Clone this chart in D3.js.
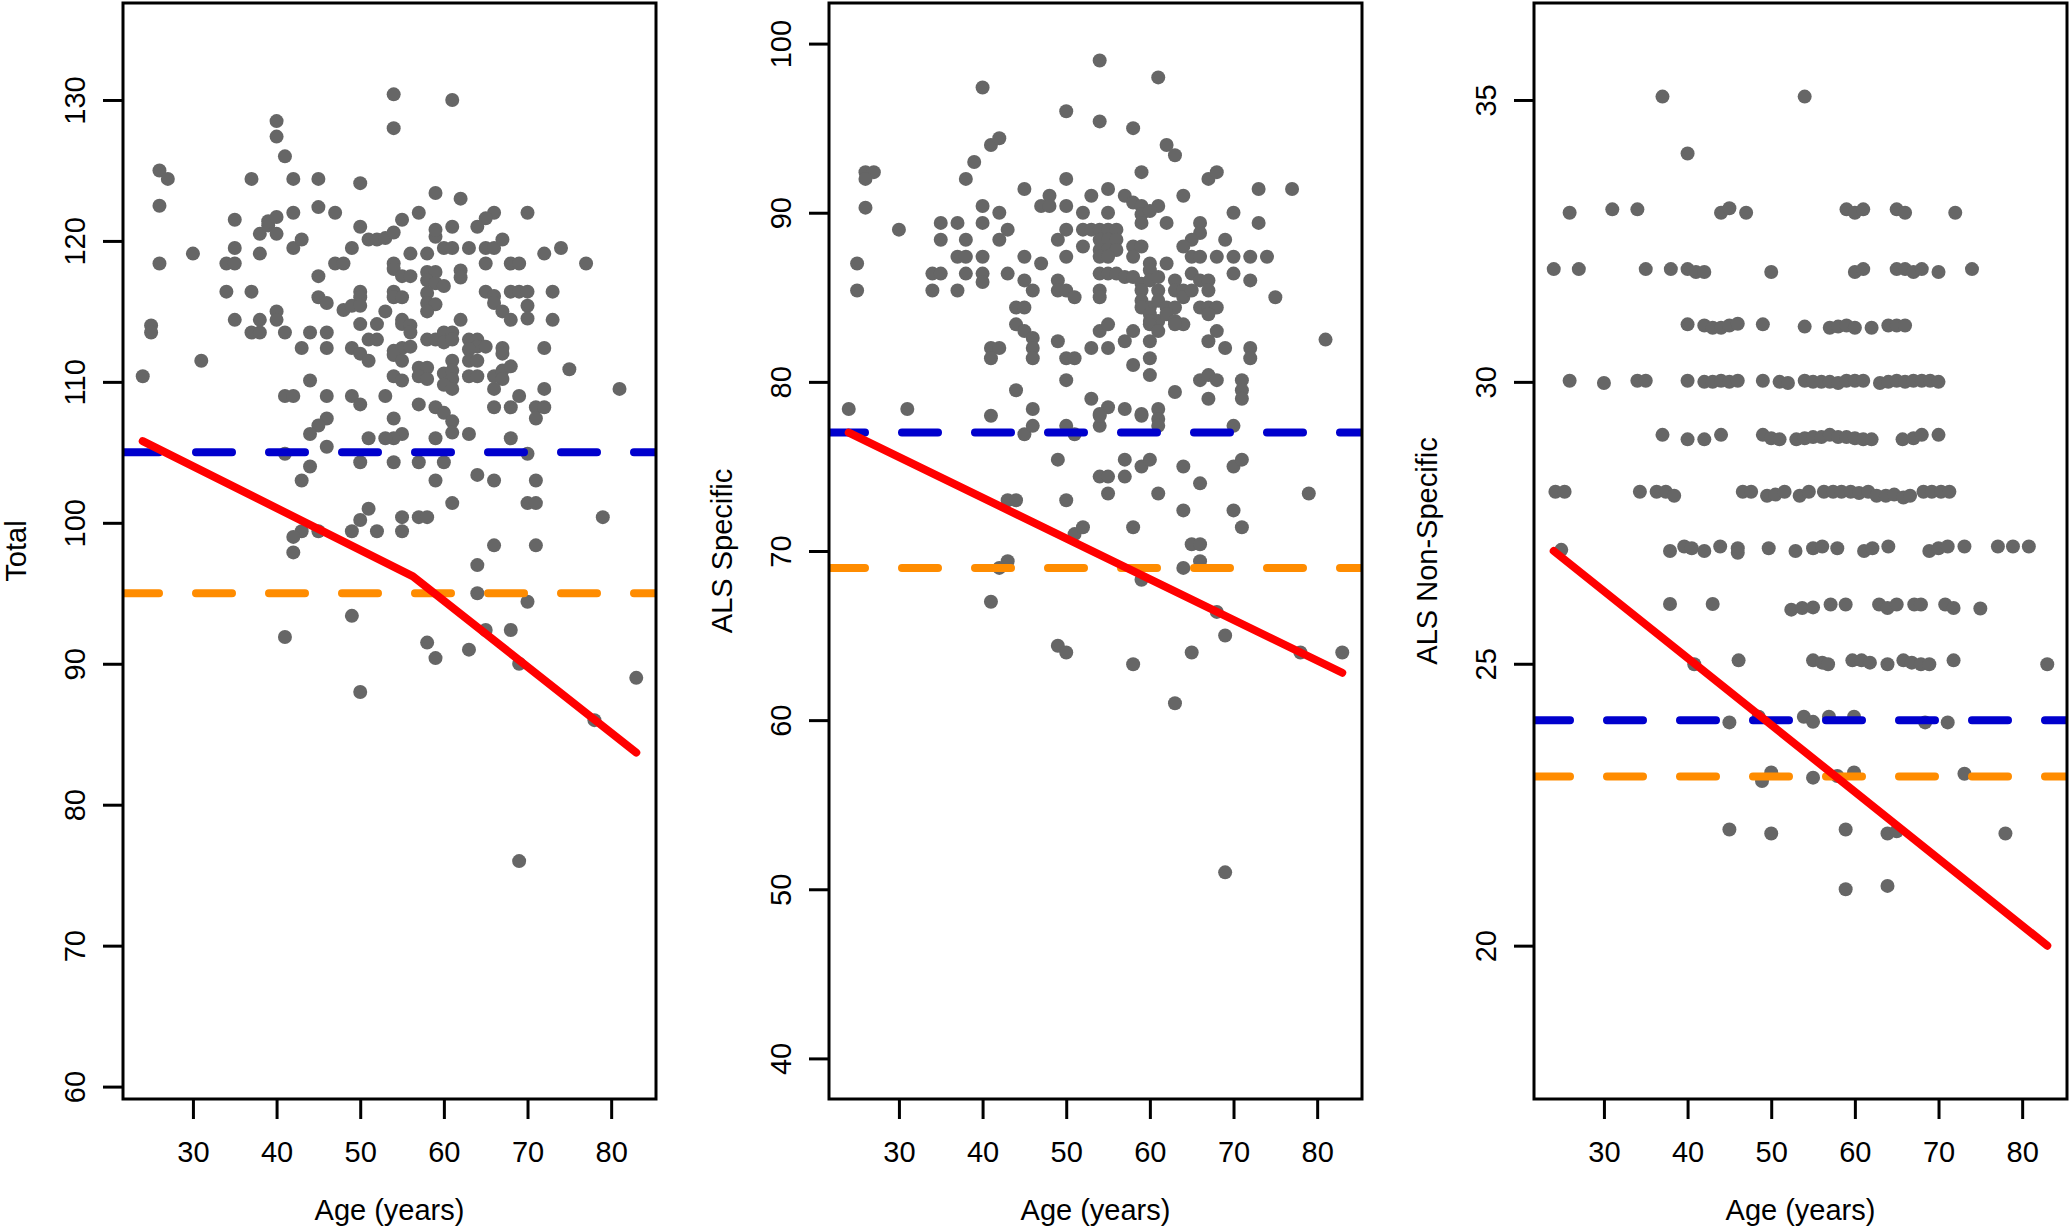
<!DOCTYPE html>
<html>
<head>
<meta charset="utf-8">
<script src="https://cdn.jsdelivr.net/npm/d3@7"></script>
<style>
body { margin: 0; background: #fff; }
svg text { font-family: "Liberation Sans", Arial, Helvetica, sans-serif; font-size: 29px; fill: #000; }
</style>
</head>
<body>
<svg id="chart" width="2070" height="1231"></svg>
<script>
// x axis (shared)
var ageLim = [24, 83];
var ageTicks = [30, 40, 50, 60, 70, 80];

// panel 1: Total  [age, score]
var totalPts = [
  [54,130.4],[61,130.0],[40,128.5],[40,127.4],[41,126.0],[54,128.0],[26,125.0],[27,124.4],[37,124.4],[42,124.4],
  [45,124.4],[50,124.1],[26,122.5],[59,123.4],[62,123.0],[35,121.5],[38,120.5],[39,121.1],[39,121.4],[40,121.7],
  [40,120.5],[42,122.0],[45,122.4],[47,122.0],[50,121.0],[55,121.5],[57,122.0],[66,122.0],[65,121.6],[64,121.0],
  [70,122.0],[30,119.1],[34,118.4],[35,118.4],[35,119.5],[38,119.1],[42,119.5],[43,120.1],[47,118.4],[48,118.4],
  [49,119.5],[51,120.1],[52,120.1],[53,120.2],[54,120.6],[56,119.1],[58,119.1],[59,120.3],[59,120.8],[61,121.0],
  [60,119.5],[61,119.5],[63,119.5],[65,119.5],[66,119.5],[67,120.1],[65,118.4],[68,118.4],[69,118.4],[72,119.1],
  [74,119.5],[77,118.4],[26,118.4],[54,118.4],[54,118.0],[55,117.5],[56,117.5],[58,117.8],[59,117.8],[58,117.2],
  [59,117.0],[60,116.8],[62,117.9],[62,117.4],[45,117.5],[34,116.4],[37,116.4],[50,116.4],[50,116.0],[54,116.4],
  [54,116.0],[55,116.0],[58,116.3],[58,115.6],[59,115.5],[58,115.0],[65,116.4],[66,116.1],[68,116.4],[69,116.4],
  [70,116.4],[73,116.4],[45,116.0],[46,115.6],[48,115.1],[49,115.4],[50,115.4],[66,115.6],[67,115.0],[68,114.4],
  [70,115.4],[70,114.5],[40,115.0],[40,114.4],[53,115.0],[35,114.4],[38,114.4],[62,114.4],[73,114.4],[55,114.4],
  [55,114.1],[56,114.0],[56,113.5],[37,113.5],[38,113.5],[41,113.5],[44,113.5],[46,113.5],[50,114.1],[52,114.1],
  [51,113.0],[52,113.0],[58,113.0],[59,113.0],[60,113.5],[61,113.5],[60,112.8],[61,113.0],[63,113.0],[64,113.0],
  [64,112.5],[65,112.5],[63,112.3],[43,112.4],[46,112.4],[49,112.4],[50,112.0],[51,111.5],[54,112.2],[55,112.4],
  [56,112.5],[54,111.9],[55,111.5],[61,111.5],[63,111.5],[64,111.5],[67,112.4],[67,112.0],[72,112.4],[31,111.5],
  [57,111.0],[58,111.0],[57,110.4],[58,110.2],[60,110.6],[61,110.8],[61,110.2],[60,109.8],[61,109.5],[63,110.4],
  [64,110.4],[66,110.4],[67,110.8],[68,111.1],[67,110.2],[24,110.4],[44,110.1],[53,109.0],[54,110.4],[55,110.1],
  [75,110.9],[66,109.5],[69,109.0],[72,109.5],[81,109.5],[41,109.0],[42,109.0],[46,109.0],[49,109.0],[50,108.4],
  [25,114.0],[25,113.5],[57,108.4],[59,108.2],[60,107.8],[66,108.2],[68,108.2],[71,108.2],[72,108.2],
  [61,107.2],[61,106.4],[71,107.4],[46,107.4],[45,106.9],[44,106.3],[54,107.4],[55,106.3],[54,106.0],[53,106.0],
  [51,106.0],[63,106.3],[59,106.0],[68,106.0],[46,105.4],[41,104.9],[70,104.9],[50,104.3],[54,104.3],[57,104.3],
  [60,104.3],[44,104.0],[43,103.0],[59,103.0],[64,103.4],[66,103.0],[71,103.0],[61,101.4],[70,101.4],[71,101.4],
  [51,101.0],[55,100.4],[57,100.4],[58,100.4],[79,100.4],[50,100.2],[49,99.4],[52,99.4],[55,99.4],[43,99.4],
  [42,99.0],[45,99.4],[42,97.9],[66,98.4],[71,98.4],[64,97.0],[64,95.0],[70,94.4],[49,93.4],[41,91.9],
  [65,92.4],[68,92.4],[58,91.5],[59,90.4],[63,91.0],[69,90.0],[83,89.0],[50,88.0],[78,86.0],[69,76.0]
];
var totalFit = [[24,105.8],[56.3,96.2],[83,83.7]];
var totalRefs = [105, 95];
var totalTicks = [60, 70, 80, 90, 100, 110, 120, 130];
var totalLim = [62, 134];

// panel 2: ALS Specific
var specificPts = [
  [54,99.0],[61,98.0],[40,97.4],[50,96.0],[54,95.4],[58,95.0],[62,94.0],[63,93.4],[41,94.0],[42,94.4],
  [39,93.0],[38,92.0],[26,92.4],[27,92.4],[26,92.0],[59,92.4],[67,92.0],[68,92.4],[50,92.0],[26,90.3],
  [45,91.4],[48,91.0],[47,90.4],[48,90.4],[50,90.4],[53,91.0],[55,91.4],[57,91.0],[58,90.6],[59,90.4],
  [61,90.4],[59,89.9],[60,90.1],[64,91.0],[73,91.4],[77,91.4],[52,90.0],[55,90.0],[70,90.0],[30,89.0],
  [35,89.4],[37,89.4],[40,90.4],[40,89.4],[42,90.0],[43,89.0],[50,89.0],[52,89.0],[53,89.0],[54,89.0],
  [55,89.0],[56,89.0],[59,89.4],[62,89.4],[66,89.4],[66,88.8],[65,88.4],[73,89.4],[35,88.4],[38,88.4],
  [42,88.4],[49,88.4],[54,88.4],[55,88.4],[56,88.4],[54,87.8],[55,87.8],[56,87.8],[54,87.4],[55,87.4],
  [58,88.0],[59,88.0],[58,87.4],[64,88.0],[69,88.4],[52,88.0],[25,87.0],[37,87.4],[38,87.4],[40,87.4],
  [45,87.4],[47,87.0],[50,87.4],[60,87.0],[62,87.0],[65,87.4],[66,87.4],[68,87.4],[70,87.4],[72,87.4],
  [74,87.4],[34,86.4],[35,86.4],[38,86.4],[40,86.4],[40,85.9],[43,86.4],[54,86.4],[55,86.4],[56,86.4],
  [57,86.2],[58,86.2],[59,85.8],[60,86.6],[60,86.0],[61,86.2],[65,86.4],[66,86.0],[67,86.0],[70,86.4],
  [72,86.0],[25,85.4],[34,85.4],[37,85.4],[45,86.0],[46,85.4],[49,86.0],[49,85.4],[50,85.4],[51,85.0],
  [54,85.4],[54,85.0],[59,85.4],[59,84.8],[60,84.4],[61,85.4],[61,84.8],[63,86.0],[63,85.4],[64,85.4],
  [64,85.0],[65,85.4],[67,85.4],[75,85.0],[44,84.4],[45,84.4],[59,84.4],[60,84.0],[61,83.6],[62,84.4],
  [63,84.4],[62,84.0],[63,83.6],[64,83.4],[60,83.6],[66,84.4],[67,84.4],[68,84.4],[67,84.0],[44,83.4],
  [45,83.0],[46,82.6],[46,82.0],[46,81.4],[54,83.0],[55,83.4],[58,83.0],[57,82.4],[60,83.4],[61,83.0],
  [60,82.4],[60,81.4],[60,80.4],[63,83.4],[68,83.0],[67,82.4],[69,82.0],[49,82.4],[53,82.0],[55,82.0],
  [41,82.0],[42,82.0],[41,81.4],[50,81.4],[51,81.4],[72,82.0],[72,81.4],[81,82.5],[58,81.0],[50,80.1],
  [66,80.1],[67,80.4],[68,80.1],[67,79.0],[71,80.1],[71,79.5],[71,79.0],[44,79.5],[53,79.0],[63,79.4],
  [24,78.4],[31,78.4],[46,78.4],[57,78.4],[55,78.5],[54,78.1],[59,78.1],[61,78.4],[41,78.0],
  [45,76.9],[46,77.4],[50,77.4],[51,76.9],[54,77.4],[54,78.0],[59,78.0],[61,77.8],[61,77.4],[70,77.4],
  [49,75.4],[57,75.4],[59,75.0],[60,75.4],[64,75.0],[70,75.0],[71,75.4],[54,74.4],[55,74.4],[57,74.4],
  [66,74.0],[55,73.4],[61,73.4],[79,73.4],[43,73.0],[44,73.0],[50,73.0],[64,72.4],[70,72.4],[51,71.0],
  [52,71.4],[58,71.4],[71,71.4],[65,70.4],[66,70.4],[43,69.4],[42,69.0],[66,69.4],[64,69.0],[59,68.3],
  [41,67.0],[68,66.4],[69,65.0],[49,64.4],[50,64.0],[65,64.0],[78,64.0],[83,64.0],[58,63.3],[63,61.0],
  [69,51.0],[64,37.2]
];
var specificFit = [[24,77.0],[83,62.8]];
var specificRefs = [77, 69];
var specificTicks = [40, 50, 60, 70, 80, 90, 100];
var specificLim = [40, 100];

// panel 3: ALS Non-Specific
var nonSpecificPts = [
  [37,35.06],[54,35.06],[40,34.05],
  [25.9,33.0],[31,33.06],[34,33.06],[44,33.0],[45,33.08],[47,33.0],[59,33.06],[60,33.0],[61,33.06],[65,33.06],[66,33.0],[72,33.0],
  [24,32.0],[27,32.0],[35,32.0],[38,32.0],[40,32.0],[41,31.95],[42,31.95],[50,31.95],[60,31.95],[61,32.0],[65,32.0],[66,32.0],
  [67,31.95],[68,32.0],[70,31.95],[74,32.0],
  [40,31.02],[42,31.0],[43,30.96],[44,30.96],[45,31.0],[46,31.03],[49,31.02],[54,30.98],[57,30.96],[58,30.98],[59,31.0],
  [60,30.96],[62,30.96],[64,31.0],[65,31.0],[66,31.0],
  [25.9,30.02],[30,29.98],[34,30.02],[35,30.02],[40,30.02],[42,30.0],[43,30.0],[44,30.02],[45,30.0],[46,30.02],[49,30.02],
  [51,30.0],[52,29.98],[54,30.02],[55,30.0],[56,30.0],[57,30.0],[58,29.98],[59,30.02],[60,30.02],[61,30.02],[63,29.98],
  [64,30.0],[65,30.02],[66,30.0],[67,30.02],[68,30.02],[69,30.02],[70,30.0],
  [37,29.06],[40,28.98],[42,28.98],[44,29.06],[49,29.06],[50,29.0],[51,28.98],[53,28.98],[54,29.0],[55,29.02],[56,29.02],
  [57,29.06],[58,29.02],[59,29.02],[60,29.0],[61,28.98],[62,28.98],[65.7,28.98],[67,29.0],[68,29.06],[70,29.06],
  [24.2,28.05],[25.3,28.05],[34.3,28.05],[36.3,28.05],[37.4,28.05],[38.4,27.98],[46.6,28.05],[47.6,28.05],[49.5,27.98],
  [50.5,28.0],[51.6,28.05],[53.4,27.98],[54.5,28.05],[56.3,28.05],[57.4,28.05],[58.4,28.05],[59.5,28.05],[60.5,28.03],
  [61.6,28.05],[62.6,27.98],[63.7,27.98],[64.7,28.0],[65.8,27.95],[66.6,27.98],[68.2,28.05],[69.2,28.05],[70.3,28.05],[71.3,28.05],
  [24.9,27.02],[37.9,27.0],[39.6,27.08],[40.5,27.05],[42.0,27.0],[43.9,27.08],[46.0,27.05],[46.0,26.97],[49.7,27.05],
  [52.9,27.0],[55.0,27.05],[56.1,27.08],[57.9,27.05],[61.1,27.0],[62.1,27.05],[64.0,27.08],[68.9,27.0],[70.0,27.05],
  [71.1,27.08],[73.1,27.08],[77.1,27.08],[78.9,27.08],[80.8,27.08],
  [37.9,26.06],[43.0,26.06],[52.4,25.96],[53.7,25.99],[55.0,26.0],[57.1,26.05],[58.9,26.05],[62.9,26.05],[63.9,25.99],
  [65.0,26.05],[67.1,26.05],[67.9,26.05],[70.8,26.05],[71.8,25.99],[75.0,25.98],
  [40.8,24.99],[46.1,25.06],[55.0,25.06],[56.1,25.02],[56.8,24.99],[59.7,25.06],[60.8,25.06],[61.8,25.02],[63.9,24.99],
  [65.8,25.06],[66.8,25.02],[67.9,24.99],[68.9,24.99],[71.8,25.06],[83.0,24.99],
  [45.0,23.96],[48.5,24.06],[53.9,24.06],[55.0,23.97],[56.9,24.06],[59.9,24.06],[68.4,23.96],[71.1,23.96],
  [48.9,22.92],[50.0,23.07],[55.0,22.98],[57.9,23.01],[59.9,23.07],[73.1,23.05],
  [45,22.06],[50,21.99],[58.9,22.06],[63.9,21.99],[65,22.03],[78,21.99],
  [58.9,21.0],[63.9,21.06]
];
var nonSpecificFit = [[24,27.0],[83,20.0]];
var nonSpecificRefs = [24, 23];
var nonSpecificTicks = [20, 25, 30, 35];
var nonSpecificLim = [18, 36];

var yLabels = ["Total", "ALS Specific", "ALS Non-Specific"];
var refColours = ["#0000cd", "#ff8c00"];

// layout
var panelLeft = [123, 829, 1534], panelW = 533;
var plotTop = 3, plotBottom = 1099;
var tickLen = 20;

var panels = [
  {pts: totalPts, fit: totalFit, refs: totalRefs, ticks: totalTicks, lim: totalLim},
  {pts: specificPts, fit: specificFit, refs: specificRefs, ticks: specificTicks, lim: specificLim},
  {pts: nonSpecificPts, fit: nonSpecificFit, refs: nonSpecificRefs, ticks: nonSpecificTicks, lim: nonSpecificLim}
];

// R style 4% axis extension
function rExtend(lim) {
  var d = (lim[1] - lim[0]) * 0.04;
  return [lim[0] - d, lim[1] + d];
}

var svg = d3.select("#chart");

panels.forEach(function(p, i) {
  var left = panelLeft[i];
  var x = d3.scaleLinear().domain(rExtend(ageLim)).range([left, left + panelW]);
  var y = d3.scaleLinear().domain(rExtend(p.lim)).range([plotBottom, plotTop]);

  svg.append("clipPath").attr("id", "clip" + i)
    .append("rect")
    .attr("x", left).attr("y", plotTop)
    .attr("width", panelW).attr("height", plotBottom - plotTop);

  var g = svg.append("g").attr("clip-path", "url(#clip" + i + ")");

  g.selectAll("circle")
    .data(p.pts)
    .enter().append("circle")
    .attr("cx", function(d) { return x(d[0]); })
    .attr("cy", function(d) { return y(d[1]); })
    .attr("r", 7)
    .attr("fill", "#666666");

  g.selectAll("line.ref")
    .data(p.refs)
    .enter().append("line")
    .attr("class", "ref")
    .attr("x1", left).attr("x2", left + panelW)
    .attr("y1", function(d) { return y(d); })
    .attr("y2", function(d) { return y(d); })
    .attr("stroke", function(d, j) { return refColours[j]; })
    .attr("stroke-width", 8)
    .attr("stroke-linecap", "round")
    .attr("stroke-dasharray", "36,37");

  g.append("path")
    .datum(p.fit)
    .attr("d", d3.line().x(function(d) { return x(d[0]); }).y(function(d) { return y(d[1]); }))
    .attr("fill", "none")
    .attr("stroke", "#ff0000")
    .attr("stroke-width", 8)
    .attr("stroke-linecap", "round")
    .attr("stroke-linejoin", "round");

  // box
  svg.append("rect")
    .attr("x", left).attr("y", plotTop)
    .attr("width", panelW).attr("height", plotBottom - plotTop)
    .attr("fill", "none").attr("stroke", "#000").attr("stroke-width", 3);

  // x axis
  var gx = svg.append("g")
    .attr("transform", "translate(0," + plotBottom + ")")
    .call(d3.axisBottom(x).tickValues(ageTicks).tickSize(tickLen).tickSizeOuter(0).tickFormat(d3.format("d")));
  gx.attr("font-size", null).attr("font-family", null);
  gx.select(".domain").remove();
  gx.selectAll(".tick line").attr("stroke", "#000").attr("stroke-width", 3);
  gx.selectAll(".tick text").attr("y", 63).attr("dy", null);

  // y axis
  var gy = svg.append("g")
    .attr("transform", "translate(" + left + ",0)")
    .call(d3.axisLeft(y).tickValues(p.ticks).tickSize(tickLen).tickSizeOuter(0).tickFormat(d3.format("d")));
  gy.attr("font-size", null).attr("font-family", null);
  gy.select(".domain").remove();
  gy.selectAll(".tick line").attr("stroke", "#000").attr("stroke-width", 3);
  gy.selectAll(".tick text")
    .attr("x", 0).attr("dy", null)
    .attr("text-anchor", "middle")
    .attr("transform", "translate(-38,0) rotate(-90)");

  // axis titles
  svg.append("text")
    .attr("x", left + panelW / 2).attr("y", 1220)
    .attr("text-anchor", "middle")
    .text("Age (years)");

  svg.append("text")
    .attr("transform", "translate(" + (left - 97) + "," + ((plotTop + plotBottom) / 2) + ") rotate(-90)")
    .attr("text-anchor", "middle")
    .text(yLabels[i]);
});
</script>
</body>
</html>
